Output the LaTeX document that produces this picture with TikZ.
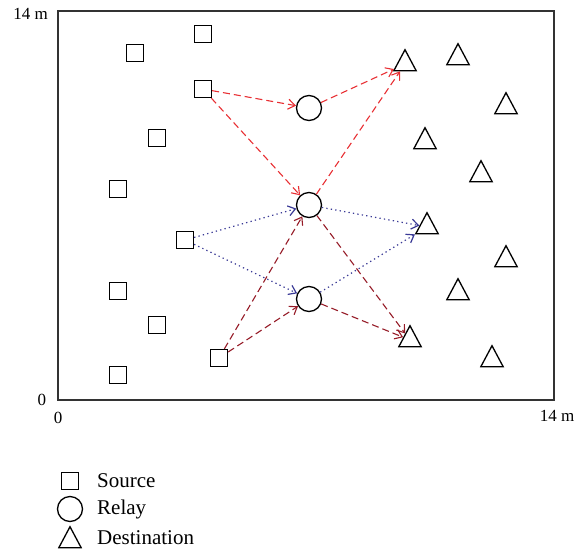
\documentclass[tikz,border=0pt]{standalone}
\usepackage{fontspec}
\setmainfont{Liberation Serif}
\usetikzlibrary{arrows.meta,shapes.geometric}

\definecolor{linkred}{RGB}{232,48,52}
\definecolor{linkdark}{RGB}{150,28,40}
\definecolor{linkblue}{RGB}{58,58,150}

\tikzset{
  src/.style={draw,line width=1.3pt,rectangle,minimum size=17pt,inner sep=0pt},
  rly/.style={draw,line width=1.3pt,circle,minimum size=25pt,inner sep=0pt},
  dst/.style={draw,line width=1.3pt,isosceles triangle,isosceles triangle apex angle=56,
    shape border rotate=90,minimum height=21pt,inner sep=0pt},
  tip/.style={-{Straight Barb[length=7pt,width=10pt]}},
  redlink/.style={tip,linkred,dash pattern=on 7pt off 4pt,line width=1.1pt},
  darklink/.style={tip,linkdark,dash pattern=on 7pt off 4pt,line width=1.1pt},
  bluelink/.style={tip,linkblue,dash pattern=on 1.3pt off 3.2pt,line width=1.2pt},
  lbl/.style={font=\fontsize{17}{20}\selectfont,inner sep=0pt}
}

\begin{document}
\begin{tikzpicture}[x=1pt,y=-1pt]
  \useasboundingbox (0,0) rectangle (579,558);

  % Field
  \draw[line width=1.8pt,black!80] (58,11) rectangle (554,400);
  \node[lbl,anchor=east] (ytop) at (48,14) {14 m};
  \node[lbl] (yzero) at (42,400) {0};
  \node[lbl] (xzero) at (58,418) {0};
  \node[lbl] (xend) at (557,416) {14 m};

  % Sources
  \foreach \n/\x/\y in {1/135/53, 2/203/34, 3/203/89, 4/157/138, 5/118/189,
                        6/185/240, 7/118/291, 8/157/325, 9/219/358, 10/118/375} {
    \node[src] (s\n) at (\x,\y) {};
  }

  % Relays
  \foreach \n/\x/\y in {1/309/108, 2/309/205, 3/309/299} {
    \node[rly] (r\n) at (\x,\y) {};
  }

  % Destinations
  \foreach \n/\x/\y in {1/405/64, 2/458/58, 3/506/107, 4/425/142, 5/481/175,
                        6/427/227, 7/506/260, 8/458/293, 9/410/340, 10/492/360} {
    \node[dst] (d\n) at (\x,\y) {};
  }

  % Links through the relays
  \foreach \a/\b/\sty in {s3/r1/redlink, s3/r2/redlink, r1/d1/redlink, r2/d1/redlink,
                          s6/r2/bluelink, s6/r3/bluelink, r2/d6/bluelink, r3/d6/bluelink,
                          s9/r2/darklink, s9/r3/darklink, r2/d9/darklink, r3/d9/darklink} {
    \draw[\sty] (\a) -- (\b);
  }

  % Legend
  \node[src] (ksrc) at (70,481) {};
  \node[rly] (krly) at (70,509) {};
  \node[dst] (kdst) at (70,541) {};
  \foreach \k/\y/\lab in {ksrc/481/Source, krly/509/Relay, kdst/538/Destination} {
    \node[font=\fontsize{21}{25}\selectfont,anchor=west,inner sep=0pt] (t\k) at (97,\y) {\lab};
  }
\end{tikzpicture}
\end{document}
